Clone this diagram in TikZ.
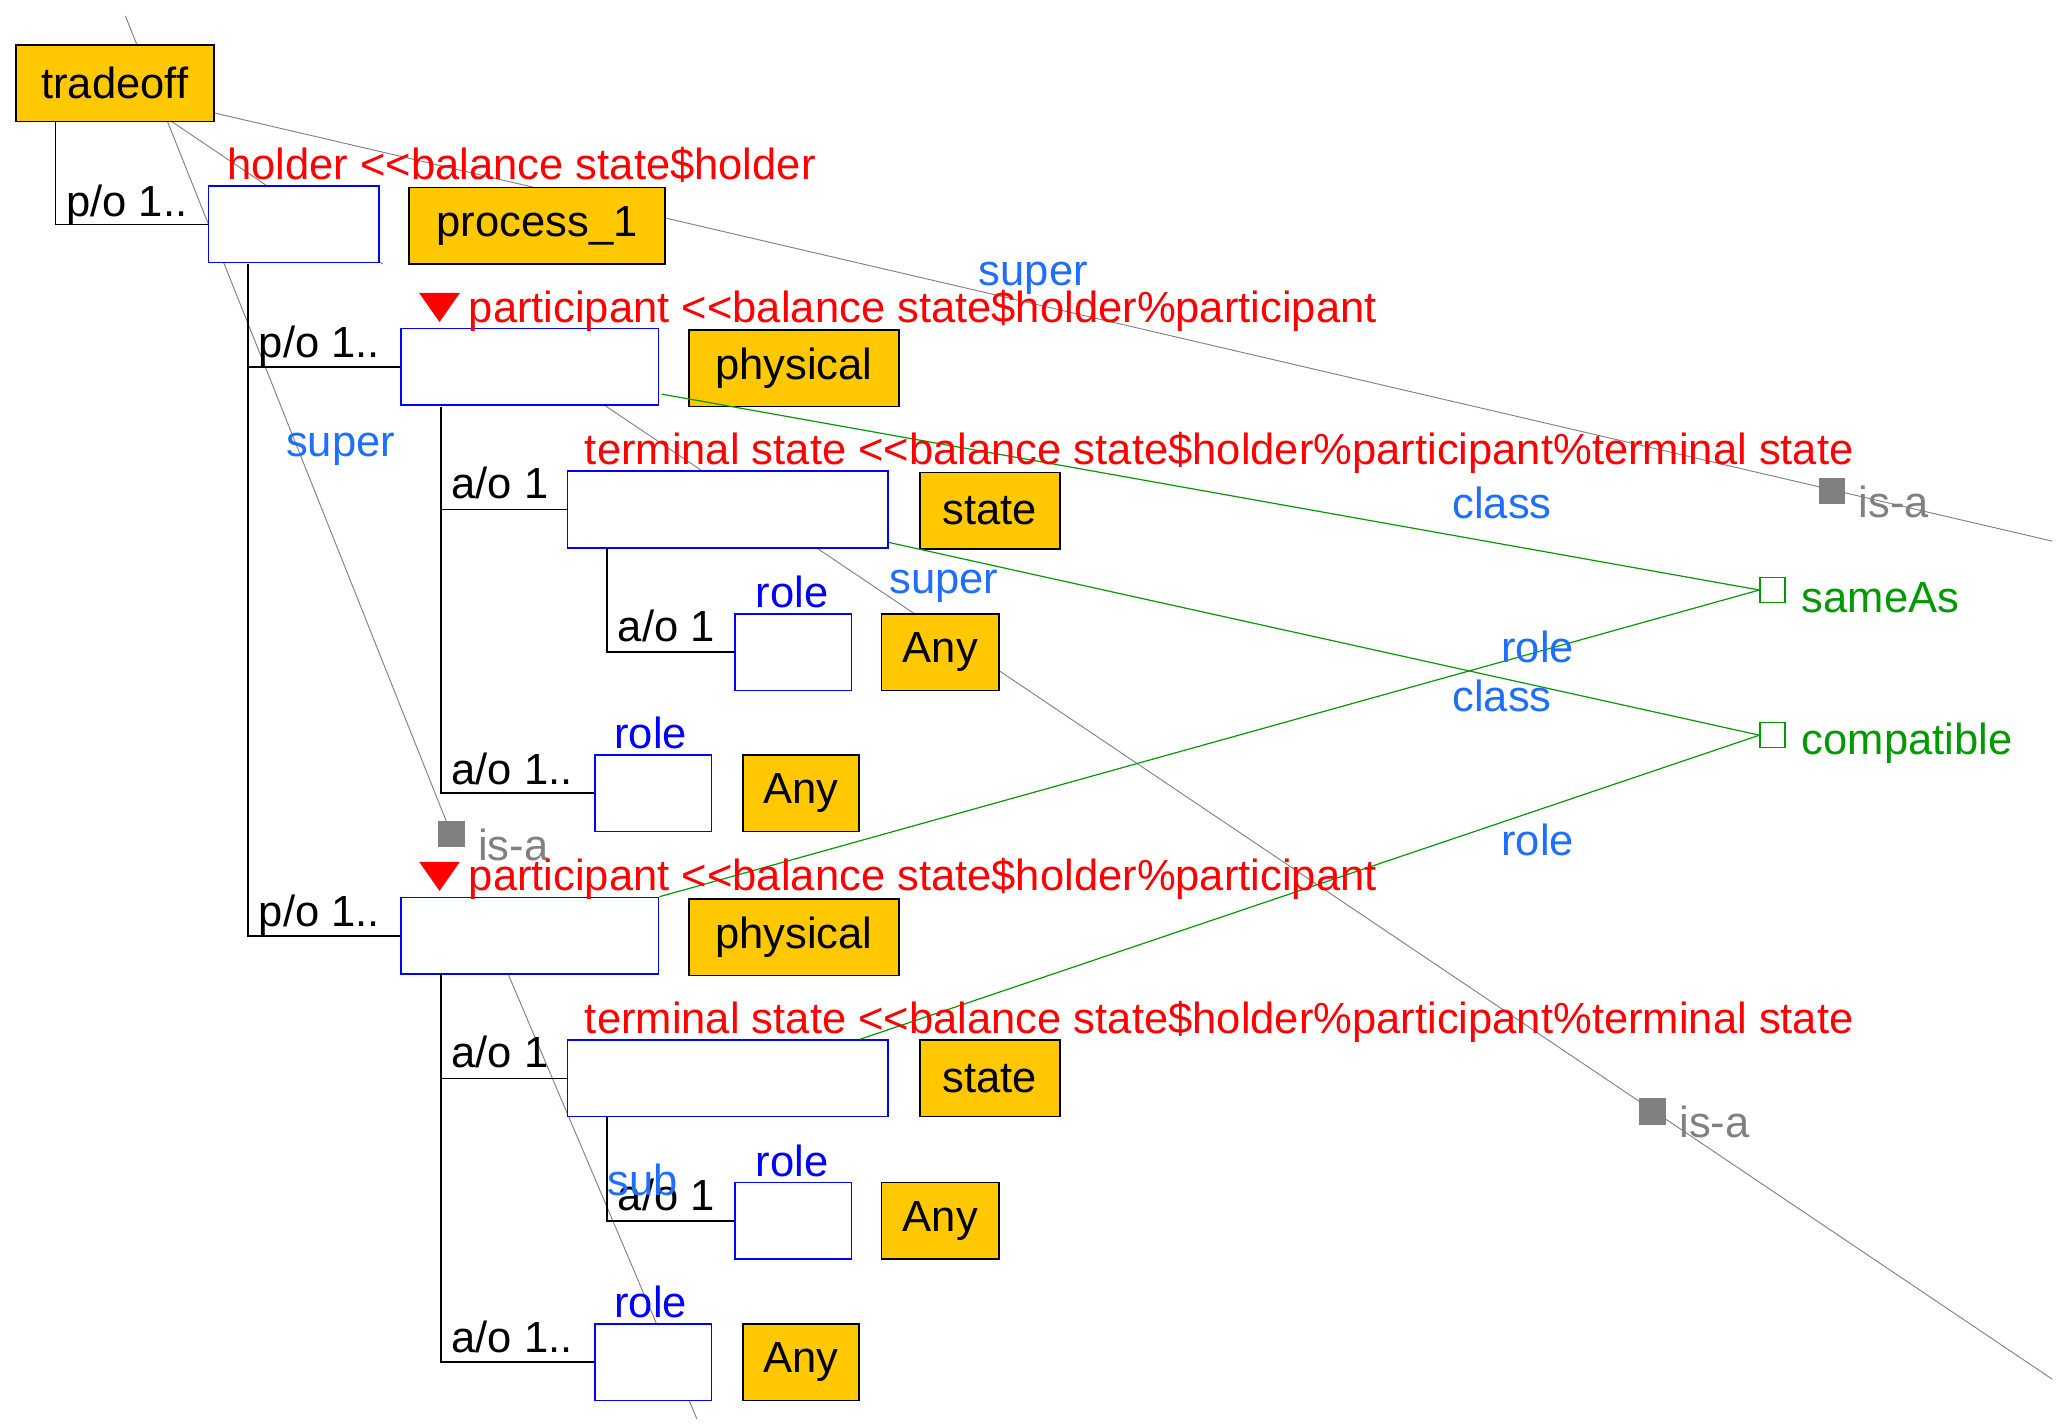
\documentclass[tikz,border=0pt]{standalone}
\usepackage{fontspec}
\setmainfont{Liberation Sans}
\usetikzlibrary{shapes.geometric}
\definecolor{gold}{HTML}{FFC800}
\definecolor{lb}{HTML}{1E6EFF}
\definecolor{gr}{HTML}{009900}
\newcommand{\dlt}{{<}\kern0pt{<}}
\begin{document}
\begin{tikzpicture}[x=1pt,y=-1pt,
  every node/.style={font=\fontsize{33}{38}\selectfont, inner sep=0pt},
  yb/.style={draw=black, fill=gold, line width=1.2pt, minimum height=58pt},
  bb/.style={draw=blue, fill=white, line width=1.2pt, minimum height=58pt},
  tr/.style={black, line width=1.2pt},
  gl/.style={gray, line width=0.7pt},
  gn/.style={gr, line width=0.9pt},
  red/.style={text=red, anchor=base west},
  lbl/.style={text=lb, anchor=base},
  rl/.style={text=blue, anchor=base},
  bl/.style={anchor=base west},
  tri/.style={isosceles triangle, isosceles triangle apex angle=70, shape border rotate=-90, fill=red, minimum size=22pt}]
\useasboundingbox (0,0) rectangle (1560,1080);
% gray lines
\coordinate (g1a) at (95,12); \coordinate (g1b) at (342,632);
\draw[gl] (g1a) -- (g1b);
\coordinate (g2a) at (160,85); \coordinate (g2b) at (1555,410);
\draw[gl] (g2a) -- (g2b);
\coordinate (g3a) at (130,92); \coordinate (g3b) at (1555,1045);
\draw[gl] (g3a) -- (290,200) (455,305) -- (g3b);
\coordinate (g4a) at (385,738); \coordinate (g4b) at (528,1075);
\draw[gl] (g4a) -- (g4b);
% boxes
\node[yb, minimum width=150pt] (trade) at (87,63) {tradeoff};
\node[bb, minimum width=129pt] (hold) at (222.5,170) {};
\node[yb, minimum width=194pt] (proc) at (407,171) {process\_1};
\node[bb, minimum width=195pt] (p1) at (401.5,278) {};
\node[yb, minimum width=159pt] (ph1) at (601.5,279) {physical};
\node[bb, minimum width=243pt] (t1) at (551.5,386) {};
\node[yb, minimum width=106pt] (s1) at (750,387) {state};
\node[bb, minimum width=88pt] (ra) at (601,494) {};
\node[yb, minimum width=89pt] (aa) at (712.5,494) {Any};
\node[bb, minimum width=88pt] (rb) at (495,601) {};
\node[yb, minimum width=88pt] (ab) at (607,601) {Any};
\node[bb, minimum width=195pt] (p2) at (401.5,709) {};
\node[yb, minimum width=159pt] (ph2) at (601.5,710) {physical};
\node[bb, minimum width=243pt] (t2) at (551.5,817) {};
\node[yb, minimum width=106pt] (s2) at (750,817) {state};
\node[bb, minimum width=88pt] (rc) at (601,925) {};
\node[yb, minimum width=89pt] (ac) at (712.5,925) {Any};
\node[bb, minimum width=88pt] (rd) at (495,1032) {};
\node[yb, minimum width=88pt] (ad) at (607,1032) {Any};
% markers
\node[fill=gray, minimum size=20pt] (isa1) at (1388,372) {};
\node[fill=gray, minimum size=20pt] (isa2) at (342,632) {};
\node[fill=gray, minimum size=20pt] (isa3) at (1252,842) {};
\node[draw=gr, fill=white, line width=1pt, minimum size=19pt] (same) at (1343,447) {};
\node[draw=gr, fill=white, line width=1pt, minimum size=19pt] (comp) at (1343,557) {};
\node[text=gray, anchor=west] at ([xshift=10pt,yshift=-8pt]isa1.east) {is-a};
\node[text=gray, anchor=west] at ([xshift=10pt,yshift=-8pt]isa2.east) {is-a};
\node[text=gray, anchor=west] at ([xshift=10pt,yshift=-8pt]isa3.east) {is-a};
\node[text=gr, anchor=west] at ([xshift=12pt,yshift=-6pt]same.east) {sameAs};
\node[text=gr, anchor=west] at ([xshift=12pt,yshift=-6pt]comp.east) {compatible};
% green lines
\draw[gn] (ph1.south west) ++(-20,-10) -- (same.west);
\draw[gn] (t1.east) ++(0,25) -- (comp.west);
\draw[gn] (p2.north east) -- (same.west);
\draw[gn] (t2.north) ++(100,0) -- (comp.west);
% tree
\draw[tr] (42,92) |- (hold.west);
\draw[tr] (188,200) |- (p1.west);
\draw[tr] (188,270) |- (p2.west);
\draw[tr] (334,308) |- (t1.west);
\draw[tr] (334,380) |- (rb.west);
\draw[tr] (460,415) |- (ra.west);
\draw[tr] (334,738) |- (t2.west);
\draw[tr] (334,810) |- (rd.west);
\draw[tr] (460,846) |- (rc.west);
\node[bl] at (50,164) {p/o 1..};
\node[bl] at (196,271) {p/o 1..};
\node[bl] at (196,702) {p/o 1..};
\node[bl] at (342,378) {a/o 1};
\node[bl] at (342,594) {a/o 1..};
\node[bl] at (468,486) {a/o 1};
\node[bl] at (342,809) {a/o 1};
\node[bl] at (342,1025) {a/o 1..};
\node[bl] at (468,917) {a/o 1};
% red labels
\node[red] at (172,136) {holder \dlt balance state\$holder};
\node[tri] (tr1) at (333,230) {};
\node[red] at (355,244) {participant \dlt balance state\$holder\%participant};
\node[red] at (443,352) {terminal state \dlt balance state\$holder\%participant\%terminal state};
\node[tri] (tr2) at (333,661) {};
\node[red] at (355,675) {participant \dlt balance state\$holder\%participant};
\node[red] at (443,783) {terminal state \dlt balance state\$holder\%participant\%terminal state};
% blue labels
\node[rl] at (600,460) {role};
\node[rl] at (493,567) {role};
\node[rl] at (600,891) {role};
\node[rl] at (493,998) {role};
\node[lbl] at (783,216) {super};
\node[lbl] at (258,346) {super};
\node[lbl] at (715,450) {super};
\node[lbl] at (1138,393) {class};
\node[lbl] at (1165,502) {role};
\node[lbl] at (1138,539) {class};
\node[lbl] at (1165,648) {role};
\node[lbl] at (487,906) {sub};
\end{tikzpicture}
\end{document}
